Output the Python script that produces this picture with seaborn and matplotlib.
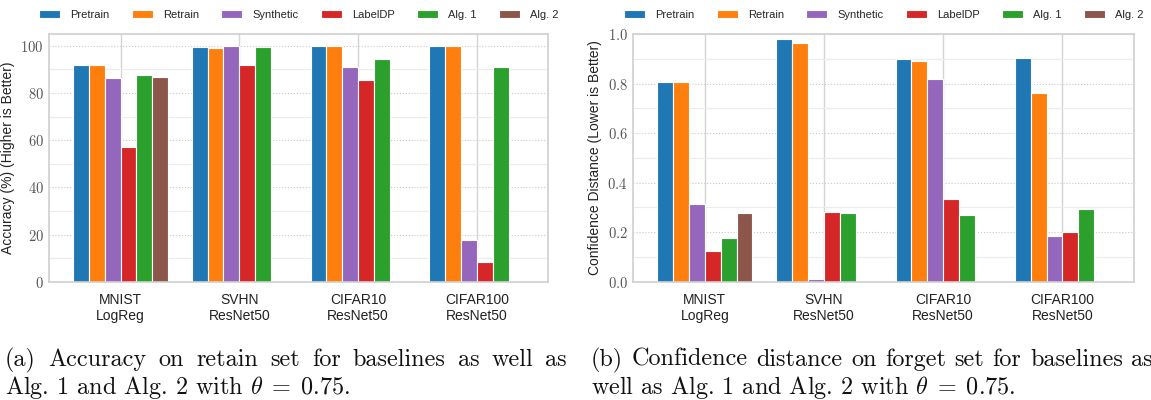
import numpy as np
import pandas as pd
import matplotlib
matplotlib.use("Agg")
import matplotlib.pyplot as plt
from matplotlib.ticker import FuncFormatter, MultipleLocator
import seaborn as sns

methods = ["Pretrain", "Retrain", "Synthetic", "LabelDP", "Alg. 1", "Alg. 2"]
datasets = ["MNIST\nLogReg", "SVHN\nResNet50", "CIFAR10\nResNet50", "CIFAR100\nResNet50"]
colors = ["#1f77b4", "#ff7f0e", "#9467bd", "#d62728", "#2ca02c", "#8c564b"]

acc_pretrain = [91.8, 99.5, 99.9, 100.0]
acc_retrain = [91.8, 99.2, 99.9, 100.0]
acc_synthetic = [86.2, 99.8, 91.1, 17.7]
acc_labeldp = [57.0, 91.8, 85.3, 8.3]
acc_alg1 = [87.6, 99.4, 94.5, 91.1]
acc_alg2 = [86.9, np.nan, np.nan, np.nan]

conf_pretrain = [0.806, 0.980, 0.899, 0.902]
conf_retrain = [0.806, 0.964, 0.891, 0.763]
conf_synthetic = [0.312, 0.011, 0.817, 0.186]
conf_labeldp = [0.123, 0.280, 0.333, 0.201]
conf_alg1 = [0.176, 0.277, 0.268, 0.295]
conf_alg2 = [0.277, np.nan, np.nan, np.nan]

caption_a = ["(a) Accuracy on retain set for baselines as well as",
             "Alg. 1 and Alg. 2 with $\\theta\\;=\\;0.75$."]
caption_b = ["(b) Confidence distance on forget set for baselines as",
             "well as Alg. 1 and Alg. 2 with $\\theta\\;=\\;0.75$."]

acc_series = [acc_pretrain, acc_retrain, acc_synthetic, acc_labeldp, acc_alg1, acc_alg2]
conf_series = [conf_pretrain, conf_retrain, conf_synthetic, conf_labeldp, conf_alg1, conf_alg2]


def long_df(series):
    rows = []
    for m, vals in zip(methods, series):
        for d, v in zip(datasets, vals):
            rows.append({"dataset": d, "method": m, "value": v})
    return pd.DataFrame(rows)


sns.set_theme(style="whitegrid")
plt.rcParams["font.family"] = ["Liberation Sans", "DejaVu Sans"]
plt.rcParams["mathtext.fontset"] = "cm"

W, H = 1151, 400
fig = plt.figure(figsize=(W / 100, H / 100), dpi=100)
ax1 = fig.add_axes([0.0428, 0.2958, 0.4334, 0.6192])
ax2 = fig.add_axes([0.5502, 0.2958, 0.4350, 0.6192])


def draw(ax, series, ylabel, ymax, major, minor, fmt):
    df = long_df(series)
    sns.barplot(data=df, x="dataset", y="value", hue="method", order=datasets,
                hue_order=methods, palette=colors, saturation=1, width=0.8,
                edgecolor="white", linewidth=0.8, errorbar=None, ax=ax)
    ax.set_xlim(-0.6, 3.6)
    ax.set_ylim(0, ymax)
    ax.yaxis.set_major_locator(MultipleLocator(major))
    ax.yaxis.set_minor_locator(MultipleLocator(minor))
    ax.yaxis.set_major_formatter(FuncFormatter(fmt))
    ax.set_axisbelow(True)
    ax.xaxis.grid(True, color="#d4d4d4", linewidth=1.0, linestyle="-")
    ax.yaxis.grid(True, which="major", color="#c8c8c8", linewidth=0.8, linestyle=":")
    ax.yaxis.grid(True, which="minor", color="#ececec", linewidth=0.8, linestyle="-")
    ax.tick_params(axis="y", which="both", length=0, labelsize=10.5, labelcolor="#555555", pad=4)
    ax.tick_params(axis="x", length=0, labelsize=10, labelcolor="#222222", pad=8)
    ax.set_xlabel("")
    ax.set_ylabel(ylabel, fontsize=10, color="#222222", labelpad=4)
    for s in ax.spines.values():
        s.set_color("#d0d0d0")
        s.set_linewidth(1.2)
    handles, labels = ax.get_legend_handles_labels()
    if ax.get_legend() is not None:
        ax.get_legend().remove()
    ax.legend(handles, labels, loc="center", bbox_to_anchor=(0.5, 1.077), ncol=6,
              frameon=False, fontsize=8, handlelength=1.9, handleheight=0.6,
              handletextpad=0.9, columnspacing=2.0, borderaxespad=0)


draw(ax1, acc_series, "Accuracy (%) (Higher is Better)", 105, 20, 10,
     lambda v, p: f"${v:.0f}$")
draw(ax2, conf_series, "Confidence Distance (Lower is Better)", 1.0, 0.2, 0.1,
     lambda v, p: f"${v:.1f}$")

cap_kw = dict(family="cmr10", fontsize=17.4, va="baseline", ha="left", color="#111111")
renderer = fig.canvas.get_renderer()


def justified_line(text, x0_px, width_px, y_px):
    words = text.split(" ")
    objs = [fig.text(0, 1 - y_px / H, w, **cap_kw) for w in words]
    widths = [o.get_window_extent(renderer).width for o in objs]
    gap = (width_px - sum(widths)) / (len(words) - 1)
    x = x0_px
    for o, w in zip(objs, widths):
        o.set_x(x / W)
        x += w + gap


def caption(lines, x0_px):
    justified_line(lines[0], x0_px, 562, 366)
    fig.text(x0_px / W, 1 - 394 / H, lines[1], **cap_kw)


caption(caption_a, 5)
caption(caption_b, 591)

fig.savefig("out.png", dpi=100)
